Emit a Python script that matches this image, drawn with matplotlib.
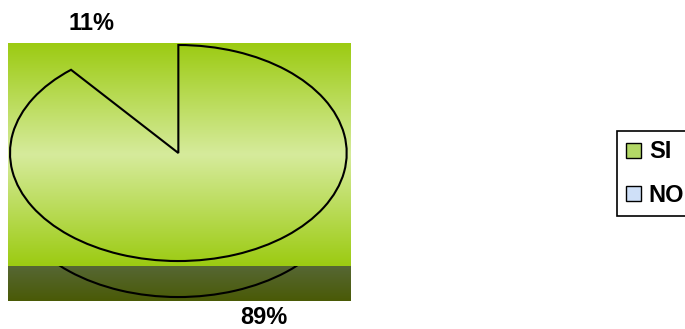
import numpy as np
import matplotlib
matplotlib.use("Agg")
import matplotlib.pyplot as plt
from matplotlib.colors import LinearSegmentedColormap
from matplotlib.patches import Rectangle, Patch

plt.rcParams['font.family'] = ['Liberation Sans', 'DejaVu Sans']

# data
labels = ['SI', 'NO']
values = [89, 11]
legend_colors = ['#b3d866', '#cfe0f8']

W, H = 685, 329
fig = plt.figure(figsize=(W / 100, H / 100), dpi=100)

# background (pixel coordinates)
bg = fig.add_axes([0, 0, 1, 1])
wall = LinearSegmentedColormap.from_list('wall', ['#9ccb12', '#d6eb9c', '#9ccb12'])
floor = LinearSegmentedColormap.from_list('floor', ['#566734', '#4a5a06'])
grad = np.linspace(0, 1, 256).reshape(-1, 1)
bg.imshow(grad, cmap=wall, extent=(8, 351, 266, 43), aspect='auto')
bg.imshow(grad, cmap=floor, extent=(8, 351, 301, 266), aspect='auto')
bg.set_xlim(0, W)
bg.set_ylim(H, 0)
bg.axis('off')

# percentage labels
bg.text(92, 24, f'{values[1]}%', ha='center', va='center', fontsize=17, fontweight='bold')
bg.text(264, 318, f'{values[0]}%', ha='center', va='center', fontsize=17, fontweight='bold')

# pie (elliptical, 3d look)
pax = fig.add_axes([10 / W, 1 - 301 / H, 336.7 / W, 256 / H])
depth = 36 / 108
wp = dict(facecolor='none', edgecolor='black', linewidth=1.5)
top, _ = pax.pie(values, startangle=90, counterclock=False, radius=1, wedgeprops=wp)
top[1].set_edgecolor('none')
side, _ = pax.pie(values, startangle=90, counterclock=False, radius=1,
                  center=(0, -depth), wedgeprops=wp)
pax.set_xlim(-1, 1)
pax.set_ylim(-1.37, 1)
pax.set_aspect('auto')
pax.axis('off')
floor_clip = Rectangle((-1.2, -1.37), 2.4, 1.37 - 1.046, transform=pax.transData)
for w in side:
    w.set_clip_on(True)
    w.set_clip_path(floor_clip)
side[1].set_visible(False)

# legend
handles = [Patch(facecolor=c, edgecolor='black', linewidth=1.0) for c in legend_colors]
leg = fig.legend(handles, labels, loc='upper left', bbox_to_anchor=(617 / W, 1 - 131 / H),
                 frameon=True, fancybox=False, framealpha=1, edgecolor='black',
                 prop={'weight': 'bold', 'size': 17}, handlelength=0.6, handleheight=0.6,
                 handletextpad=0.35, borderpad=0.4, labelspacing=0.85, borderaxespad=0)
leg.get_frame().set_linewidth(1.2)

fig.savefig('out.png', dpi=100)
